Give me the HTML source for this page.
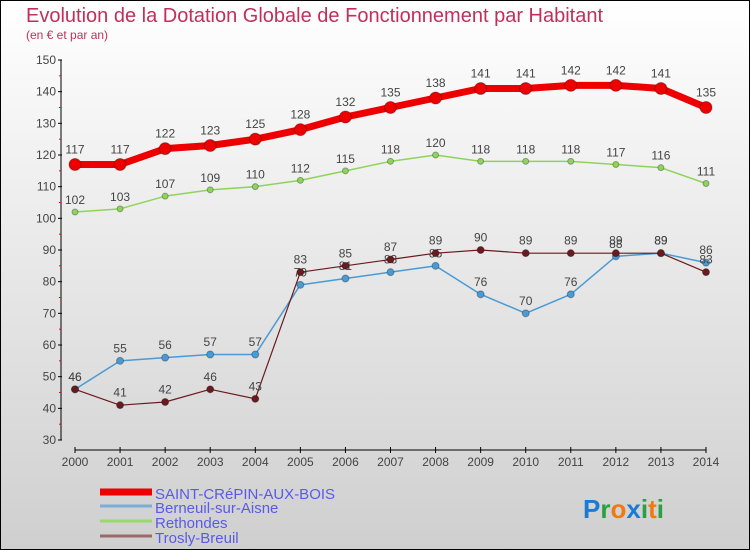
<!DOCTYPE html>
<html><head><meta charset="utf-8"><style>
body{margin:0;}
#c{width:750px;height:550px;position:relative;box-sizing:border-box;border:1px solid #000;background:linear-gradient(#ffffff,#cfcfcf);font-family:"Liberation Sans",sans-serif;overflow:hidden}
</style></head><body>
<div id="c">
<svg id="s" width="750" height="550" style="position:absolute;left:-1px;top:-1px">
<text x="26" y="22" font-size="20" fill="#c0305a">Evolution de la Dotation Globale de Fonctionnement par Habitant</text>
<text x="26" y="39" font-size="12" fill="#c0305a">(en € et par an)</text>
</svg>
</div>
<script>
const years=[2000,2001,2002,2003,2004,2005,2006,2007,2008,2009,2010,2011,2012,2013,2014];
const saint=[117,117,122,123,125,128,132,135,138,141,141,142,142,141,135];
const berneuil=[46,55,56,57,57,79,81,83,85,76,70,76,88,89,86];
const rethondes=[102,103,107,109,110,112,115,118,120,118,118,118,117,116,111];
const trosly=[46,41,42,46,43,83,85,87,89,90,89,89,89,89,83];
const yTicks=[30,40,50,60,70,80,90,100,110,120,130,140,150];
const svg=document.getElementById('s');const NS='http://www.w3.org/2000/svg';
const X=i=>75+i*(706-75)/14;const Y=v=>440-(v-30)*(380/120);
function el(t,a,p){const e=document.createElementNS(NS,t);for(const k in a)e.setAttribute(k,a[k]);(p||svg).appendChild(e);return e;}
const ax=el('g',{});
el('line',{x1:61,y1:60,x2:61,y2:440,stroke:'#000'},ax);
yTicks.forEach(v=>{el('line',{x1:58,y1:Y(v),x2:62,y2:Y(v),stroke:'#000'},ax);
const t=el('text',{x:56,y:Y(v)+4,'font-size':12,fill:'#444','text-anchor':'end'},ax);t.textContent=v;
if(v<150)el('line',{x1:59,y1:Y(v+5),x2:61,y2:Y(v+5),stroke:'#f00'},ax);});
const xa=el('g',{});
el('line',{x1:75,y1:450,x2:706,y2:450,stroke:'#000'},xa);
years.forEach((y,i)=>{el('line',{x1:X(i),y1:447,x2:X(i),y2:453,stroke:'#000'},xa);
const t=el('text',{x:X(i),y:466,'font-size':12,fill:'#444','text-anchor':'middle'},xa);t.textContent=y;});
function series(d,color,w,r,name,lbl){const g=el('g',{});
el('polyline',{points:d.map((v,i)=>X(i)+','+Y(v)).join(' '),fill:'none',stroke:color,'stroke-width':w,'stroke-linejoin':'round'},g);
d.forEach((v,i)=>{const c=el('circle',{cx:X(i),cy:Y(v),r:r,fill:color,stroke:'rgba(0,0,0,0.3)'},g);
const t=el('text',{x:X(i),y:Y(v)-(r+5),'font-size':12,fill:'#444','text-anchor':'middle'},g);t.textContent=v;});}
series(rethondes,'#8fd45a',1.5,3,'series-rethondes');
series(berneuil,'#4a9ad4',1.5,3.5,'series-berneuil');
series(trosly,'#6b1a1f',1.2,3.5,'series-trosly');
series(saint,'#ee0000',7,6,'series-saint-crepin');
const lg=el('g',{});
[['SAINT-CRéPIN-AUX-BOIS','#ee0000',7,494],['Berneuil-sur-Aisne','#7aaed4',3,508],['Rethondes','#9ad86a',3,523],['Trosly-Breuil','#9a6a6a',3,538]].forEach(e=>{
el('line',{x1:100,y1:e[3]-2,x2:152,y2:e[3]-2,stroke:e[1],'stroke-width':e[2]},lg);
const t=el('text',{x:155,y:e[3]+5,'font-size':15,fill:'#5a5ae8'},lg);t.textContent=e[0];});
const p=el('text',{x:583,y:518,'font-size':26,'font-weight':'bold'});
[['P','#1a7ad4'],['r','#2aa040'],['o','#f07a10'],['x','#1a7ad4'],['i','#2aa040'],['t','#f07a10'],['i','#2aa040']].forEach(c=>{const s=el('tspan',{fill:c[1]},p);s.textContent=c[0];});
</script>
</body></html>
